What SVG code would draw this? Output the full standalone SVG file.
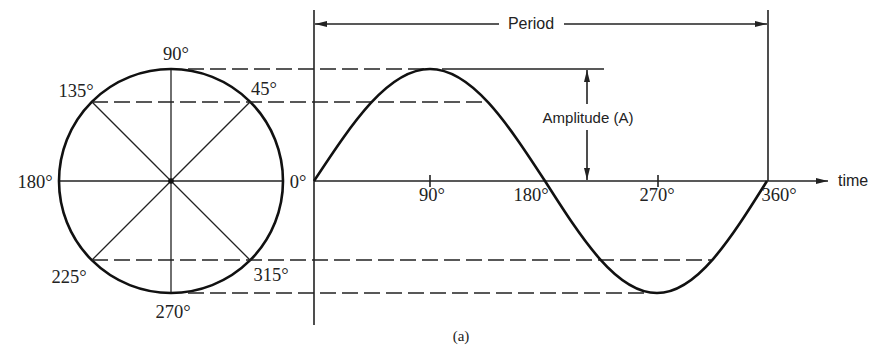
<svg xmlns="http://www.w3.org/2000/svg" width="888" height="354" viewBox="0 0 888 354">
<defs>
<style>
.lbl{font-family:"Liberation Serif","Times New Roman",serif;font-size:18.5px;fill:#222;text-anchor:middle}
.sans{font-family:"Liberation Sans",Arial,sans-serif;font-size:15px;fill:#222}
.thin{stroke:#222;stroke-width:1.3;fill:none}
.axis{stroke:#222;stroke-width:1.6;fill:none}
.thick{stroke:#111;stroke-width:2.6;fill:none}
.dash{stroke:#222;stroke-width:1.6;fill:none;stroke-dasharray:16 6}
</style>
<marker id="ah" viewBox="0 0 12 8" refX="12" refY="4" markerWidth="12" markerHeight="8" markerUnits="userSpaceOnUse" orient="auto">
<path d="M0,1 L12,4 L0,7 z" fill="#222"/>
</marker>
</defs>
<rect width="888" height="354" fill="#fff"/>

<g id="phasor">
<line class="thin" x1="59" y1="181" x2="283" y2="181"/>
<line class="thin" x1="171" y1="69" x2="171" y2="293"/>
<line class="thin" x1="91.8" y1="101.8" x2="250.2" y2="260.2"/>
<line class="thin" x1="250.2" y1="101.8" x2="91.8" y2="260.2"/>
<circle class="thick" cx="171" cy="181" r="112"/>
<circle cx="171" cy="181" r="2.8" fill="#111"/>
</g>

<g id="projections">
<line class="dash" x1="188" y1="69" x2="426" y2="69"/>
<line class="thin" x1="442" y1="69" x2="604" y2="69"/>
<line class="dash" x1="92" y1="102" x2="486" y2="102"/>
<line class="dash" x1="92" y1="260" x2="711" y2="260"/>
<line class="dash" x1="188" y1="293" x2="650" y2="293"/>
</g>

<g id="axes">
<line class="axis" x1="314" y1="10" x2="314" y2="325"/>
<line class="axis" x1="768" y1="10" x2="768" y2="181"/>
<line class="axis" x1="314" y1="181" x2="828" y2="181" marker-end="url(#ah)"/>
<line class="axis" x1="430" y1="175" x2="430" y2="187"/>
<line class="axis" x1="658" y1="175" x2="658" y2="187"/>
</g>

<g id="sine">
<path class="thick" d="M314,181 C352.8,122.2 388.2,69 430,69 C471.4,69 506.6,122.2 545,181 C582.4,239.8 616.7,293 657,293 C696.6,293 730.2,239.8 767,181"/>
</g>

<g id="period">
<line class="axis" x1="499" y1="24" x2="315" y2="24" marker-end="url(#ah)"/>
<line class="axis" x1="564" y1="24" x2="767" y2="24" marker-end="url(#ah)"/>
<text class="sans" x="531" y="29" text-anchor="middle" style="font-size:16px">Period</text>
</g>

<g id="amplitude">
<line class="axis" x1="587" y1="104" x2="587" y2="70" marker-end="url(#ah)"/>
<line class="axis" x1="587" y1="130" x2="587" y2="180" marker-end="url(#ah)"/>
<text class="sans" x="588" y="123" text-anchor="middle">Amplitude (A)</text>
</g>

<g id="labels">
<text class="lbl" x="176" y="60">90°</text>
<text class="lbl" x="76" y="97">135°</text>
<text class="lbl" x="264" y="95">45°</text>
<text class="lbl" x="35" y="188">180°</text>
<text class="lbl" x="298" y="188">0°</text>
<text class="lbl" x="69" y="283">225°</text>
<text class="lbl" x="271" y="281">315°</text>
<text class="lbl" x="173" y="318">270°</text>
<text class="lbl" x="432" y="201">90°</text>
<text class="lbl" x="531" y="201">180°</text>
<text class="lbl" x="657" y="201">270°</text>
<text class="lbl" x="779" y="201">360°</text>
<text class="sans" x="838" y="186" style="font-size:16px">time</text>
<text class="lbl" x="461" y="341" style="font-size:15px">(a)</text>
</g>
</svg>
